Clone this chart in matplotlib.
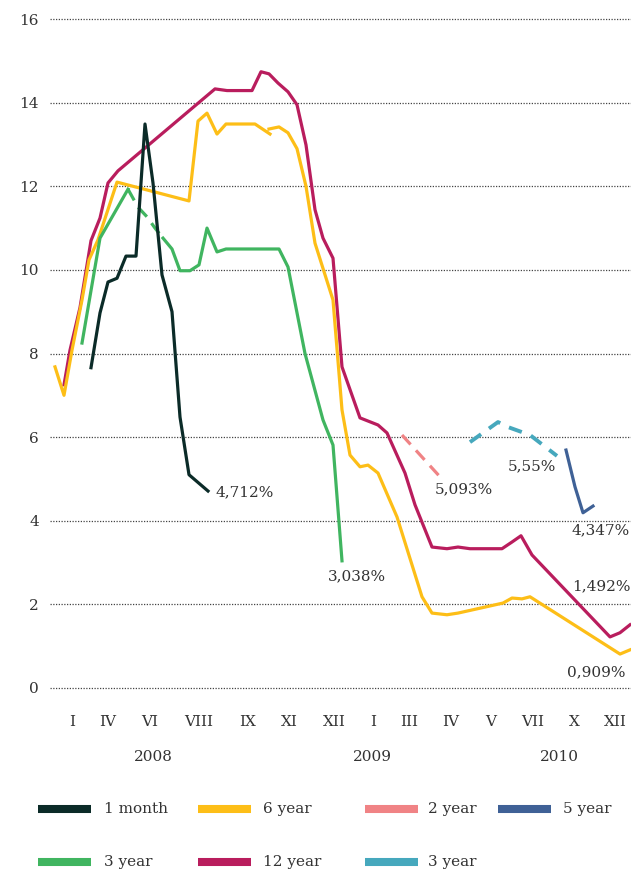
import numpy as np
import matplotlib
matplotlib.use('Agg')
import matplotlib.pyplot as plt
from matplotlib.lines import Line2D

# x is the position along the (uneven) time axis, y is the yield in %
nan = np.nan

tick_pos = [72, 108, 150, 199, 248, 289, 334, 373, 409, 451, 491, 533, 574, 615]
tick_lbl = ['I', 'IV', 'VI', 'VIII', 'IX', 'XI', 'XII', 'I', 'III', 'IV', 'V', 'VII', 'X', 'XII']
year_pos = [153, 372, 559]
year_lbl = ['2008', '2009', '2010']

m1_x = [91, 100, 108, 117, 126, 136, 145, 153, 162, 172, 180, 189, 208]
m1_y = [7.66, 8.97, 9.71, 9.8, 10.33, 10.33, 13.49, 12.08, 9.88, 9.0, 6.48, 5.1, 4.71]

y6_x = [55, 64, 72, 82, 89, 98, 117, 189, 198, 207, 217, 226, 255, 270, nan, 269, 279, 288, 297,
        306, 315, 333, 342, 350, 360, 368, 378, 397, 422, 432, 447, 458, 503, 512, 522, 530, 620, 630]
y6_y = [7.68, 7.0, 8.08, 9.28, 10.24, 10.72, 12.1, 11.65, 13.56, 13.75, 13.25, 13.49, 13.49, 13.25, nan,
        13.37, 13.42, 13.28, 12.9, 12.0, 10.64, 9.28, 6.65, 5.57, 5.29, 5.33, 5.14, 4.09, 2.18, 1.79,
        1.75, 1.79, 2.03, 2.15, 2.13, 2.18, 0.81, 0.91]

y12_x = [64, 70, 80, 91, 100, 108, 118, 215, 227, 252, 261, 269, 278, 288, 297, 306, 315, 323, 333,
         342, 360, 378, 387, 405, 415, 432, 447, 458, 470, 502, 512, 521, 532, 610, 620, 630]
y12_y = [7.25, 8.08, 9.1, 10.7, 11.24, 12.08, 12.37, 14.33, 14.29, 14.29, 14.74, 14.69, 14.47, 14.26,
         13.95, 12.99, 11.44, 10.76, 10.28, 7.68, 6.46, 6.29, 6.1, 5.14, 4.38, 3.37, 3.33, 3.37, 3.33,
         3.33, 3.49, 3.64, 3.18, 1.22, 1.32, 1.51]

y3_x = [82, 100, 128, nan, 163, 172, 180, 190, 199, 207, 217, 226, 279, 288, 305, 323, 333, 342]
y3_y = [8.25, 10.76, 11.93, nan, 10.76, 10.5, 9.98, 9.98, 10.12, 11.0, 10.43, 10.5, 10.5, 10.07,
        8.0, 6.41, 5.81, 3.04]
y3_gap_x = [128, 138, 147, 155, 163]
y3_gap_y = [11.93, 11.5, 11.27, 11.0, 10.76]

y2_x = [402, 440]
y2_y = [6.05, 5.05]

y3b_x = [470, 498, 508, 530, 557]
y3b_y = [5.88, 6.36, 6.24, 6.05, 5.55]

y5_x = [566, 575, 583, 593]
y5_y = [5.69, 4.81, 4.19, 4.35]

end_labels = ['4,712%', '3,038%', '5,093%', '5,55%', '4,347%', '1,492%', '0,909%']
end_x = [215, 328, 435, 508, 571, 572, 567]
end_y = [4.69, 2.66, 4.74, 5.31, 3.76, 2.44, 0.38]

C_M1 = '#0b2b28'
C_Y6 = '#fdbe17'
C_Y2 = '#f08385'
C_Y5 = '#3f6196'
C_Y3 = '#40b560'
C_Y12 = '#b91d5d'
C_Y3B = '#46a8bd'
TXT = '#333333'

plt.rcParams['font.family'] = ['DejaVu Serif']
FS = 11

fig = plt.figure(figsize=(6.31, 8.71), dpi=100)
W, H = 631.0, 871.0
ax = fig.add_axes([50 / W, (H - 690) / H, 581 / W, 673 / H])
ax.set_xlim(50, 631)
ax.set_ylim(-0.05, 16.05)

lw = 2.3
ax.plot(y12_x, y12_y, color=C_Y12, lw=lw, zorder=2)
ax.plot(y6_x, y6_y, color=C_Y6, lw=lw, zorder=3)
ax.plot(y3_x, y3_y, color=C_Y3, lw=lw, zorder=4)
ax.plot(y3_gap_x, y3_gap_y, color=C_Y3, lw=lw, ls=(0, (4, 2.5)), zorder=4)
ax.plot(m1_x, m1_y, color=C_M1, lw=lw, zorder=5)
ax.plot(y2_x, y2_y, color=C_Y2, lw=lw, ls=(0, (4, 2.5)), zorder=4)
ax.plot(y3b_x, y3b_y, color=C_Y3B, lw=2.8, ls=(0, (3.5, 2.5)), zorder=4)
ax.plot(y5_x, y5_y, color=C_Y5, lw=lw, zorder=4)

for lbl, x, y in zip(end_labels, end_x, end_y):
    ax.text(x, y, lbl, fontsize=FS, color=TXT, ha='left', va='center')

ax.set_yticks(range(0, 17, 2))
ax.set_yticklabels([str(v) for v in range(0, 17, 2)])
ax.set_xticks(tick_pos)
ax.set_xticklabels(tick_lbl)
ax.tick_params(axis='y', length=0, pad=8, labelsize=FS, labelcolor=TXT)
ax.tick_params(axis='x', length=0, pad=18, labelsize=FS, labelcolor=TXT)
ax.grid(axis='y', color='#444444', lw=0.9, ls=(0, (1, 1.2)))
ax.grid(axis='x', visible=False)
ax.set_axisbelow(True)
for s in ax.spines.values():
    s.set_visible(False)

for lbl, x in zip(year_lbl, year_pos):
    ax.text(x, -0.1, lbl, fontsize=FS, color=TXT, ha='center', va='center',
            transform=ax.get_xaxis_transform())

# legend drawn by hand, two rows
legend = [
    ('1 month', C_M1, 38, 104, 809), ('6 year', C_Y6, 198, 263, 809),
    ('2 year', C_Y2, 365, 428, 809), ('5 year', C_Y5, 498, 563, 809),
    ('3 year', C_Y3, 38, 104, 862), ('12 year', C_Y12, 198, 263, 862),
    ('3 year', C_Y3B, 365, 428, 862),
]
for name, col, hx, tx, py in legend:
    fy = 1 - py / H
    fig.add_artist(Line2D([hx / W, (hx + 53) / W], [fy, fy], color=col, lw=5.8,
                          solid_capstyle='butt', transform=fig.transFigure))
    fig.text(tx / W, fy, name, fontsize=FS, color=TXT, ha='left', va='center')

fig.savefig('out.png', dpi=100)
